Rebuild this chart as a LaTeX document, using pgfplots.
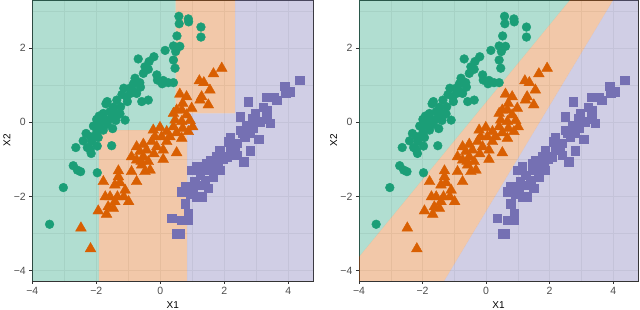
\documentclass[border=0pt]{standalone}
\usepackage{fontspec}
\setmainfont{Liberation Sans}
\usepackage{pgfplots}
\usepackage{pgfplotstable}
\pgfplotsset{compat=1.18}
\definecolor{dgreen}{HTML}{1B9E77}
\definecolor{dorange}{HTML}{D95F02}
\definecolor{dpurple}{HTML}{7570B3}
\definecolor{grey20}{HTML}{333333}
\definecolor{grey30}{HTML}{4D4D4D}
\definecolor{grey92}{HTML}{EEEEEE}

\pgfplotstableread{
x y
0.58 2.86
0.875 2.79
0.885 2.71
0.59 2.66
1.27 2.57
1.27 2.30
0.52 2.33
0.41 2.06
0.61 2.05
0.15 1.94
0.48 1.91
0.41 1.68
0.46 1.46
-0.20 1.77
-0.35 1.64
-0.69 1.71
-0.48 1.50
-0.375 1.43
-0.53 1.32
-0.11 1.28
-0.09 1.14
0.09 1.13
0.25 1.07
0.41 1.07
0.06 1.04
-0.79 1.19
-0.64 1.07
-0.84 1.04
-0.95 0.92
-1.14 0.92
-0.93 0.78
-1.05 0.69
-0.74 0.78
-0.375 0.60
-0.58 0.56
-1.03 0.56
-1.36 0.60
-1.66 0.56
-1.24 0.42
-1.47 0.41
-1.57 0.29
-1.78 0.24
-1.91 0.17
-1.99 0.08
-1.76 0.10
-1.55 0.10
-1.39 0.05
-1.26 0.23
-1.10 0.06
-1.66 -0.05
-1.89 -0.05
-2.01 -0.14
-1.78 -0.21
-1.49 -0.17
-2.09 -0.10
-2.32 -0.30
-2.18 -0.39
-1.94 -0.41
-2.15 -0.52
-2.41 -0.50
-2.28 -0.68
-2.16 -0.84
-2.64 -0.68
-2.20 -0.73
-1.97 -0.64
-1.52 -0.63
-2.72 -1.17
-2.59 -1.29
-2.49 -1.33
-1.97 -1.36
-3.03 -1.76
-3.46 -2.75
-1.70 0.50
-1.89 0.06
-1.34 0.20
-0.85 0.85
-1.20 0.75
-0.62 0.95
-1.45 0.30
-2.00 -0.30
}\greendata

\pgfplotstableread{
x y
1.92 1.46
1.66 1.31
1.22 1.12
1.36 1.07
1.55 0.87
1.29 0.69
1.50 0.47
1.24 0.60
0.61 0.76
0.82 0.69
0.70 0.51
0.98 0.38
0.51 0.33
0.67 0.33
0.41 0.24
0.82 0.20
0.93 0.05
0.46 0.06
0.67 0.02
1.01 -0.12
0.875 -0.25
0.70 -0.16
0.41 -0.12
0.51 -0.28
-0.01 -0.14
-0.22 -0.21
0.20 -0.25
0.30 -0.39
0.04 -0.39
0.67 -0.43
-0.17 -0.39
-0.27 -0.52
-0.53 -0.59
-0.74 -0.66
-0.43 -0.75
-0.11 -0.66
0.09 -0.75
0.51 -0.82
0.09 -1.00
-0.90 -0.93
-0.74 -1.02
-0.53 -0.93
-0.375 -1.06
-0.32 -1.29
-0.58 -1.15
-0.90 -1.33
-0.48 -1.33
-0.74 -1.60
-1.31 -1.47
-1.26 -1.63
-1.42 -1.69
-1.78 -1.60
-1.10 -1.83
-1.72 -2.01
-1.57 -2.01
-1.34 -2.01
-1.14 -2.01
-0.99 -2.14
-1.42 -2.14
-1.63 -2.28
-1.47 -2.32
-1.94 -2.39
-1.68 -2.48
-2.48 -2.85
-2.18 -3.41
-1.31 -1.31
-0.64 -0.79
0.20 -0.52
-0.60 -1.05
-0.20 -0.85
}\orangedata

\pgfplotstableread{
x y
4.36 1.14
3.89 0.98
4.05 0.83
3.92 0.78
3.32 0.68
3.55 0.68
3.64 0.60
2.75 0.56
3.22 0.41
3.32 0.33
2.49 0.15
2.89 0.11
3.32 0.08
3.11 0.02
2.70 -0.07
2.91 -0.14
2.49 -0.21
2.80 -0.30
2.64 -0.39
2.18 -0.41
3.07 -0.46
2.39 -0.57
2.18 -0.66
2.34 -0.75
2.80 -0.77
1.86 -0.75
2.60 -1.06
2.07 -0.93
1.76 -0.93
1.55 -1.02
1.81 -1.11
1.66 -1.24
1.45 -1.29
1.14 -1.20
0.98 -1.29
1.24 -1.42
1.66 -1.47
1.40 -1.56
1.08 -1.60
0.77 -1.72
1.03 -1.74
1.24 -1.69
1.50 -1.78
0.67 -1.87
0.93 -1.92
1.14 -2.01
1.29 -2.01
0.77 -2.19
0.875 -2.46
0.35 -2.59
0.67 -2.64
0.875 -2.64
0.51 -3.00
0.61 -3.00
2.39 -0.89
2.13 -0.52
2.96 0.24
3.43 -0.03
1.86 -1.29
1.45 -1.11
2.55 -0.30
1.95 -1.00
}\purpledata

\pgfplotsset{
  panel/.style={
    scale only axis, height=281pt,
    xmin=-4, xmax=4.78, ymin=-4.28, ymax=3.3,
    axis line style={grey20, line width=0.6pt},
    xtick={-4,-2,0,2,4}, xticklabels={−4,−2,0,2,4},
    ytick={-4,-2,0,2}, yticklabels={−4,−2,0,2},
    minor xtick={-3,-1,1,3}, minor ytick={-3,-1,1,3},
    grid=both,
    major grid style={grey92, line width=0.5pt},
    minor grid style={grey92, line width=0.25pt},
    tick align=outside, tick pos=left,
    major tick length=3pt, minor tick length=0pt,
    tick style={grey20, line width=0.5pt},
    /pgf/number format/assume math mode=true,
    ticklabel style={font=\fontsize{10.5}{12}\selectfont, text=grey30},
    xlabel=X1, ylabel=X2,
    label style={font=\fontsize{14.5}{16}\selectfont, text=black},
    every axis x label/.style={at={(axis description cs:0.5,-0.097)}, anchor=base},
    every axis y label/.style={at={(axis description cs:-0.078,0.5)}, rotate=90, anchor=base},
  },
  gpts/.style={only marks, mark=*, mark size=4.4pt, color=dgreen},
  opts/.style={only marks, mark=triangle*, mark size=6.2pt, color=dorange},
  ppts/.style={only marks, mark=square*, mark size=4.2pt, color=dpurple},
  reg/.style={draw=none, fill=#1, fill opacity=0.34},
}

\begin{document}
\begin{tikzpicture}
\begin{axis}[panel, width=281pt, at={(0,0)}, anchor=south west]
  \addplot[reg=dgreen] coordinates {(-4,-4.28) (-1.92,-4.28) (-1.92,-0.21) (0.48,-0.21) (0.48,3.3) (-4,3.3)} -- cycle;
  \addplot[reg=dorange] coordinates {(-1.92,-4.28) (0.84,-4.28) (0.84,0.24) (2.34,0.24) (2.34,3.3) (0.48,3.3) (0.48,-0.21) (-1.92,-0.21)} -- cycle;
  \addplot[reg=dpurple] coordinates {(0.84,-4.28) (4.78,-4.28) (4.78,3.3) (2.34,3.3) (2.34,0.24) (0.84,0.24)} -- cycle;
  \addplot[gpts] table[x=x,y=y] {\greendata};
  \addplot[opts] table[x=x,y=y] {\orangedata};
  \addplot[ppts] table[x=x,y=y] {\purpledata};
\end{axis}
\begin{axis}[panel, width=279pt, at={(326.7pt,0)}, anchor=south west]
  \addplot[reg=dgreen] coordinates {(-4,-3.63) (2.64,3.3) (-4,3.3)} -- cycle;
  \addplot[reg=dorange] coordinates {(-4,-4.28) (-1.32,-4.28) (4.0,3.3) (2.64,3.3) (-4,-3.63)} -- cycle;
  \addplot[reg=dpurple] coordinates {(-1.32,-4.28) (4.78,-4.28) (4.78,3.3) (4.0,3.3)} -- cycle;
  \addplot[gpts] table[x=x,y=y] {\greendata};
  \addplot[opts] table[x=x,y=y] {\orangedata};
  \addplot[ppts] table[x=x,y=y] {\purpledata};
\end{axis}
\pgfresetboundingbox
\path[use as bounding box] (-32.3pt,-29pt) rectangle (607.7pt,281pt);
\end{tikzpicture}
\end{document}
